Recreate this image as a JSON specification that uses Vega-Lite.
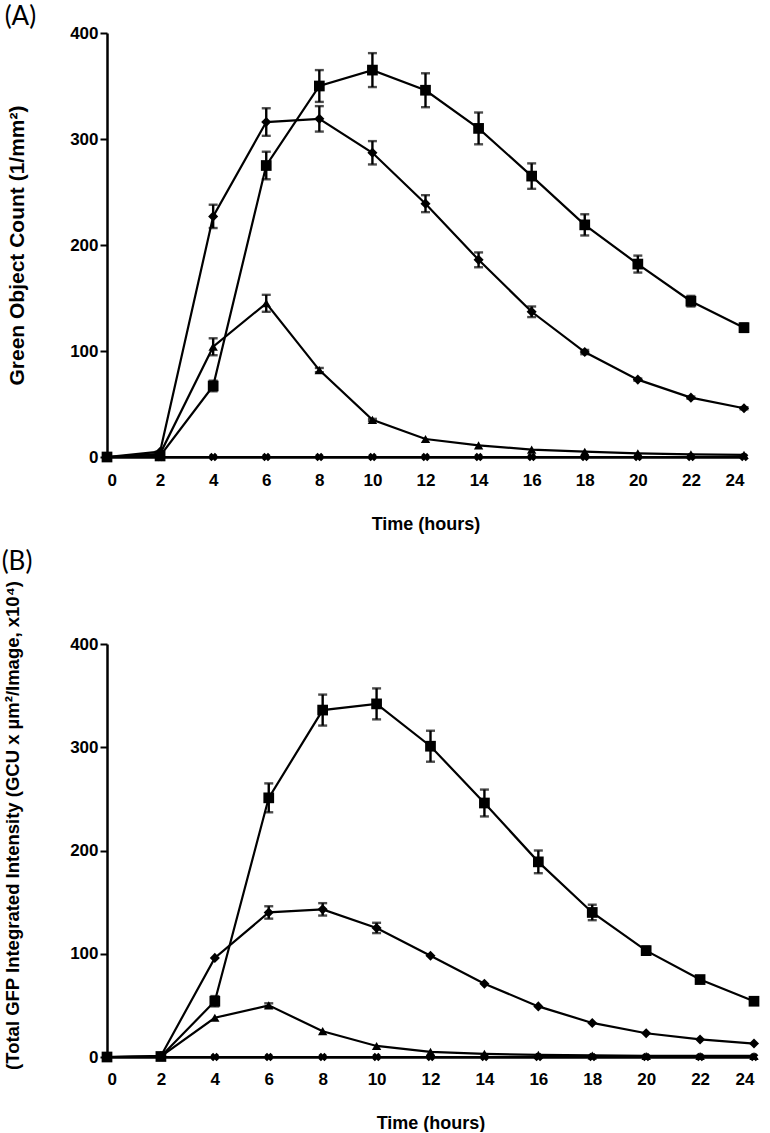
{
  "$schema": "https://vega.github.io/schema/vega-lite/v6.json",
  "padding": {"left": 1, "top": 4, "right": 5, "bottom": 0},
  "background": "white",
  "spacing": 16,
  "config": {
    "view": {"stroke": null},
    "axis": {
      "grid": false,
      "domainColor": "black",
      "domainWidth": 2.5,
      "tickColor": "black",
      "tickWidth": 2,
      "labelFont": "Liberation Sans",
      "labelFontWeight": "bold",
      "labelFontSize": 17,
      "labelColor": "black",
      "titleFont": "Liberation Sans",
      "titleFontWeight": "bold",
      "titleFontSize": 18,
      "titleColor": "black"
    },
    "title": {"font": "Lato", "fontSize": 26, "fontWeight": "normal", "color": "black", "anchor": "start", "frame": "bounds"}
  },
  "datasets": {
    "A": [
      {"s": "square", "t": 0, "v": 0, "e": 0},
      {"s": "square", "t": 2, "v": 1, "e": 0},
      {"s": "square", "t": 4, "v": 67, "e": 5},
      {"s": "square", "t": 6, "v": 275, "e": 13},
      {"s": "square", "t": 8, "v": 350, "e": 15},
      {"s": "square", "t": 10, "v": 365, "e": 16},
      {"s": "square", "t": 12, "v": 346, "e": 16},
      {"s": "square", "t": 14, "v": 310, "e": 15},
      {"s": "square", "t": 16, "v": 265, "e": 12},
      {"s": "square", "t": 18, "v": 219, "e": 10},
      {"s": "square", "t": 20, "v": 182, "e": 8},
      {"s": "square", "t": 22, "v": 147, "e": 5},
      {"s": "square", "t": 24, "v": 122, "e": 4},
      {"s": "diamond", "t": 0, "v": 0, "e": 0},
      {"s": "diamond", "t": 2, "v": 5, "e": 0},
      {"s": "diamond", "t": 4, "v": 227, "e": 11},
      {"s": "diamond", "t": 6, "v": 316, "e": 13},
      {"s": "diamond", "t": 8, "v": 319, "e": 12},
      {"s": "diamond", "t": 10, "v": 287, "e": 11},
      {"s": "diamond", "t": 12, "v": 239, "e": 8},
      {"s": "diamond", "t": 14, "v": 186, "e": 7},
      {"s": "diamond", "t": 16, "v": 137, "e": 5},
      {"s": "diamond", "t": 18, "v": 99, "e": 2},
      {"s": "diamond", "t": 20, "v": 73, "e": 1},
      {"s": "diamond", "t": 22, "v": 56, "e": 1},
      {"s": "diamond", "t": 24, "v": 46, "e": 1},
      {"s": "triangle", "t": 0, "v": 0, "e": 0},
      {"s": "triangle", "t": 2, "v": 3, "e": 0},
      {"s": "triangle", "t": 4, "v": 104, "e": 8},
      {"s": "triangle", "t": 6, "v": 145, "e": 8},
      {"s": "triangle", "t": 8, "v": 82, "e": 2},
      {"s": "triangle", "t": 10, "v": 35, "e": 1},
      {"s": "triangle", "t": 12, "v": 17, "e": 0},
      {"s": "triangle", "t": 14, "v": 11, "e": 0},
      {"s": "triangle", "t": 16, "v": 7, "e": 0},
      {"s": "triangle", "t": 18, "v": 5, "e": 0},
      {"s": "triangle", "t": 20, "v": 3.5, "e": 0},
      {"s": "triangle", "t": 22, "v": 2.5, "e": 0},
      {"s": "triangle", "t": 24, "v": 2, "e": 0},
      {"s": "cross", "t": 0, "v": 0, "e": 0},
      {"s": "cross", "t": 2, "v": 0, "e": 0},
      {"s": "cross", "t": 4, "v": 0, "e": 0},
      {"s": "cross", "t": 6, "v": 0, "e": 0},
      {"s": "cross", "t": 8, "v": 0, "e": 0},
      {"s": "cross", "t": 10, "v": 0, "e": 0},
      {"s": "cross", "t": 12, "v": 0, "e": 0},
      {"s": "cross", "t": 14, "v": 0, "e": 0},
      {"s": "cross", "t": 16, "v": 0, "e": 0},
      {"s": "cross", "t": 18, "v": 0, "e": 0},
      {"s": "cross", "t": 20, "v": 0, "e": 0},
      {"s": "cross", "t": 22, "v": 0, "e": 0},
      {"s": "cross", "t": 24, "v": 0, "e": 0}
    ],
    "B": [
      {"s": "square", "t": 0, "v": 0, "e": 0},
      {"s": "square", "t": 2, "v": 0.5, "e": 0},
      {"s": "square", "t": 4, "v": 54, "e": 5},
      {"s": "square", "t": 6, "v": 251, "e": 14},
      {"s": "square", "t": 8, "v": 336, "e": 15},
      {"s": "square", "t": 10, "v": 342, "e": 15},
      {"s": "square", "t": 12, "v": 301, "e": 15},
      {"s": "square", "t": 14, "v": 246, "e": 13},
      {"s": "square", "t": 16, "v": 189, "e": 11},
      {"s": "square", "t": 18, "v": 140, "e": 7.5},
      {"s": "square", "t": 20, "v": 103, "e": 4},
      {"s": "square", "t": 22, "v": 75, "e": 2},
      {"s": "square", "t": 24, "v": 54, "e": 2},
      {"s": "diamond", "t": 0, "v": 0, "e": 0},
      {"s": "diamond", "t": 2, "v": 1, "e": 0},
      {"s": "diamond", "t": 4, "v": 96, "e": 0},
      {"s": "diamond", "t": 6, "v": 140, "e": 6},
      {"s": "diamond", "t": 8, "v": 143, "e": 6},
      {"s": "diamond", "t": 10, "v": 125, "e": 5},
      {"s": "diamond", "t": 12, "v": 98, "e": 0},
      {"s": "diamond", "t": 14, "v": 71, "e": 0},
      {"s": "diamond", "t": 16, "v": 49, "e": 0},
      {"s": "diamond", "t": 18, "v": 33, "e": 0},
      {"s": "diamond", "t": 20, "v": 23, "e": 0},
      {"s": "diamond", "t": 22, "v": 17, "e": 0},
      {"s": "diamond", "t": 24, "v": 13, "e": 0},
      {"s": "triangle", "t": 0, "v": 0, "e": 0},
      {"s": "triangle", "t": 2, "v": 0.5, "e": 0},
      {"s": "triangle", "t": 4, "v": 38, "e": 0},
      {"s": "triangle", "t": 6, "v": 50, "e": 2},
      {"s": "triangle", "t": 8, "v": 25, "e": 0},
      {"s": "triangle", "t": 10, "v": 10.7, "e": 0},
      {"s": "triangle", "t": 12, "v": 5, "e": 0},
      {"s": "triangle", "t": 14, "v": 3, "e": 0},
      {"s": "triangle", "t": 16, "v": 2, "e": 0},
      {"s": "triangle", "t": 18, "v": 1.5, "e": 0},
      {"s": "triangle", "t": 20, "v": 1, "e": 0},
      {"s": "triangle", "t": 22, "v": 1, "e": 0},
      {"s": "triangle", "t": 24, "v": 1, "e": 0},
      {"s": "cross", "t": 0, "v": 0, "e": 0},
      {"s": "cross", "t": 2, "v": 0, "e": 0},
      {"s": "cross", "t": 4, "v": 0, "e": 0},
      {"s": "cross", "t": 6, "v": 0, "e": 0},
      {"s": "cross", "t": 8, "v": 0, "e": 0},
      {"s": "cross", "t": 10, "v": 0, "e": 0},
      {"s": "cross", "t": 12, "v": 0, "e": 0},
      {"s": "cross", "t": 14, "v": 0, "e": 0},
      {"s": "cross", "t": 16, "v": 0, "e": 0},
      {"s": "cross", "t": 18, "v": 0, "e": 0},
      {"s": "cross", "t": 20, "v": 0, "e": 0},
      {"s": "cross", "t": 22, "v": 0, "e": 0},
      {"s": "cross", "t": 24, "v": 0, "e": 0}
    ]
  },
  "vconcat": [
    {
      "width": 637,
      "height": 424,
      "title": {"text": "(A)", "dx": -2, "offset": -6},
      "data": {"name": "A"},
      "encoding": {
        "x": {"field": "t", "type": "quantitative", "scale": {"domain": [0, 24], "nice": false, "zero": false},
              "axis": {"title": "Time (hours)", "values": [0,2,4,6,8,10,12,14,16,18,20,22,24], "ticks": false, "labelPadding": 15, "titlePadding": 27}},
        "y": {"field": "v", "type": "quantitative", "scale": {"domain": [0, 400], "nice": false},
              "axis": {"title": "Green Object Count (1/mm²)", "titleFontSize": 21, "values": [0,100,200,300,400], "tickSize": 7, "labelPadding": 2, "titlePadding": 42}}
      },
      "layer": [
        {"mark": {"type": "line", "color": "black", "strokeWidth": 2.2}, "encoding": {"detail": {"field": "s"}}},
        {"transform": [{"filter": "datum.e > 0"}], "mark": {"type": "errorbar", "ticks": {"size": 9}, "color": "black", "thickness": 2.4}, "encoding": {"yError": {"field": "e"}}},
        {"mark": {"type": "point", "filled": true, "color": "black", "opacity": 1},
         "encoding": {
           "shape": {"field": "s", "type": "nominal", "legend": null, "scale": {"domain": ["square", "diamond", "triangle", "cross"], "range": ["square", "diamond", "triangle-up", "M-1,-0.4L-0.4,-1L0,-0.6L0.4,-1L1,-0.4L0.6,0L1,0.4L0.4,1L0,0.6L-0.4,1L-1,0.4L-0.6,0Z"]}},
           "size": {"field": "s", "type": "nominal", "legend": null, "scale": {"domain": ["square", "diamond", "triangle", "cross"], "range": [115, 75, 110, 170]}}
         }}
      ]
    },
    {
      "width": 647,
      "height": 413,
      "title": {"text": "(B)", "dx": -2, "offset": 5},
      "data": {"name": "B"},
      "encoding": {
        "x": {"field": "t", "type": "quantitative", "scale": {"domain": [0, 24], "nice": false, "zero": false},
              "axis": {"title": "Time (hours)", "values": [0,2,4,6,8,10,12,14,16,18,20,22,24], "ticks": false, "labelPadding": 14, "titlePadding": 27}},
        "y": {"field": "v", "type": "quantitative", "scale": {"domain": [0, 400], "nice": false},
              "axis": {"title": "(Total GFP Integrated Intensity (GCU x µm²/Image, x10⁴)", "titleFontSize": 18.5, "titleY": 181, "values": [0,100,200,300,400], "tickSize": 7, "labelPadding": 2, "titlePadding": 47}}
      },
      "layer": [
        {"mark": {"type": "line", "color": "black", "strokeWidth": 2.2}, "encoding": {"detail": {"field": "s"}}},
        {"transform": [{"filter": "datum.e > 0"}], "mark": {"type": "errorbar", "ticks": {"size": 9}, "color": "black", "thickness": 2.4}, "encoding": {"yError": {"field": "e"}}},
        {"mark": {"type": "point", "filled": true, "color": "black", "opacity": 1},
         "encoding": {
           "shape": {"field": "s", "type": "nominal", "legend": null, "scale": {"domain": ["square", "diamond", "triangle", "cross"], "range": ["square", "diamond", "triangle-up", "M-1,-0.4L-0.4,-1L0,-0.6L0.4,-1L1,-0.4L0.6,0L1,0.4L0.4,1L0,0.6L-0.4,1L-1,0.4L-0.6,0Z"]}},
           "size": {"field": "s", "type": "nominal", "legend": null, "scale": {"domain": ["square", "diamond", "triangle", "cross"], "range": [115, 75, 110, 170]}}
         }}
      ]
    }
  ]
}
